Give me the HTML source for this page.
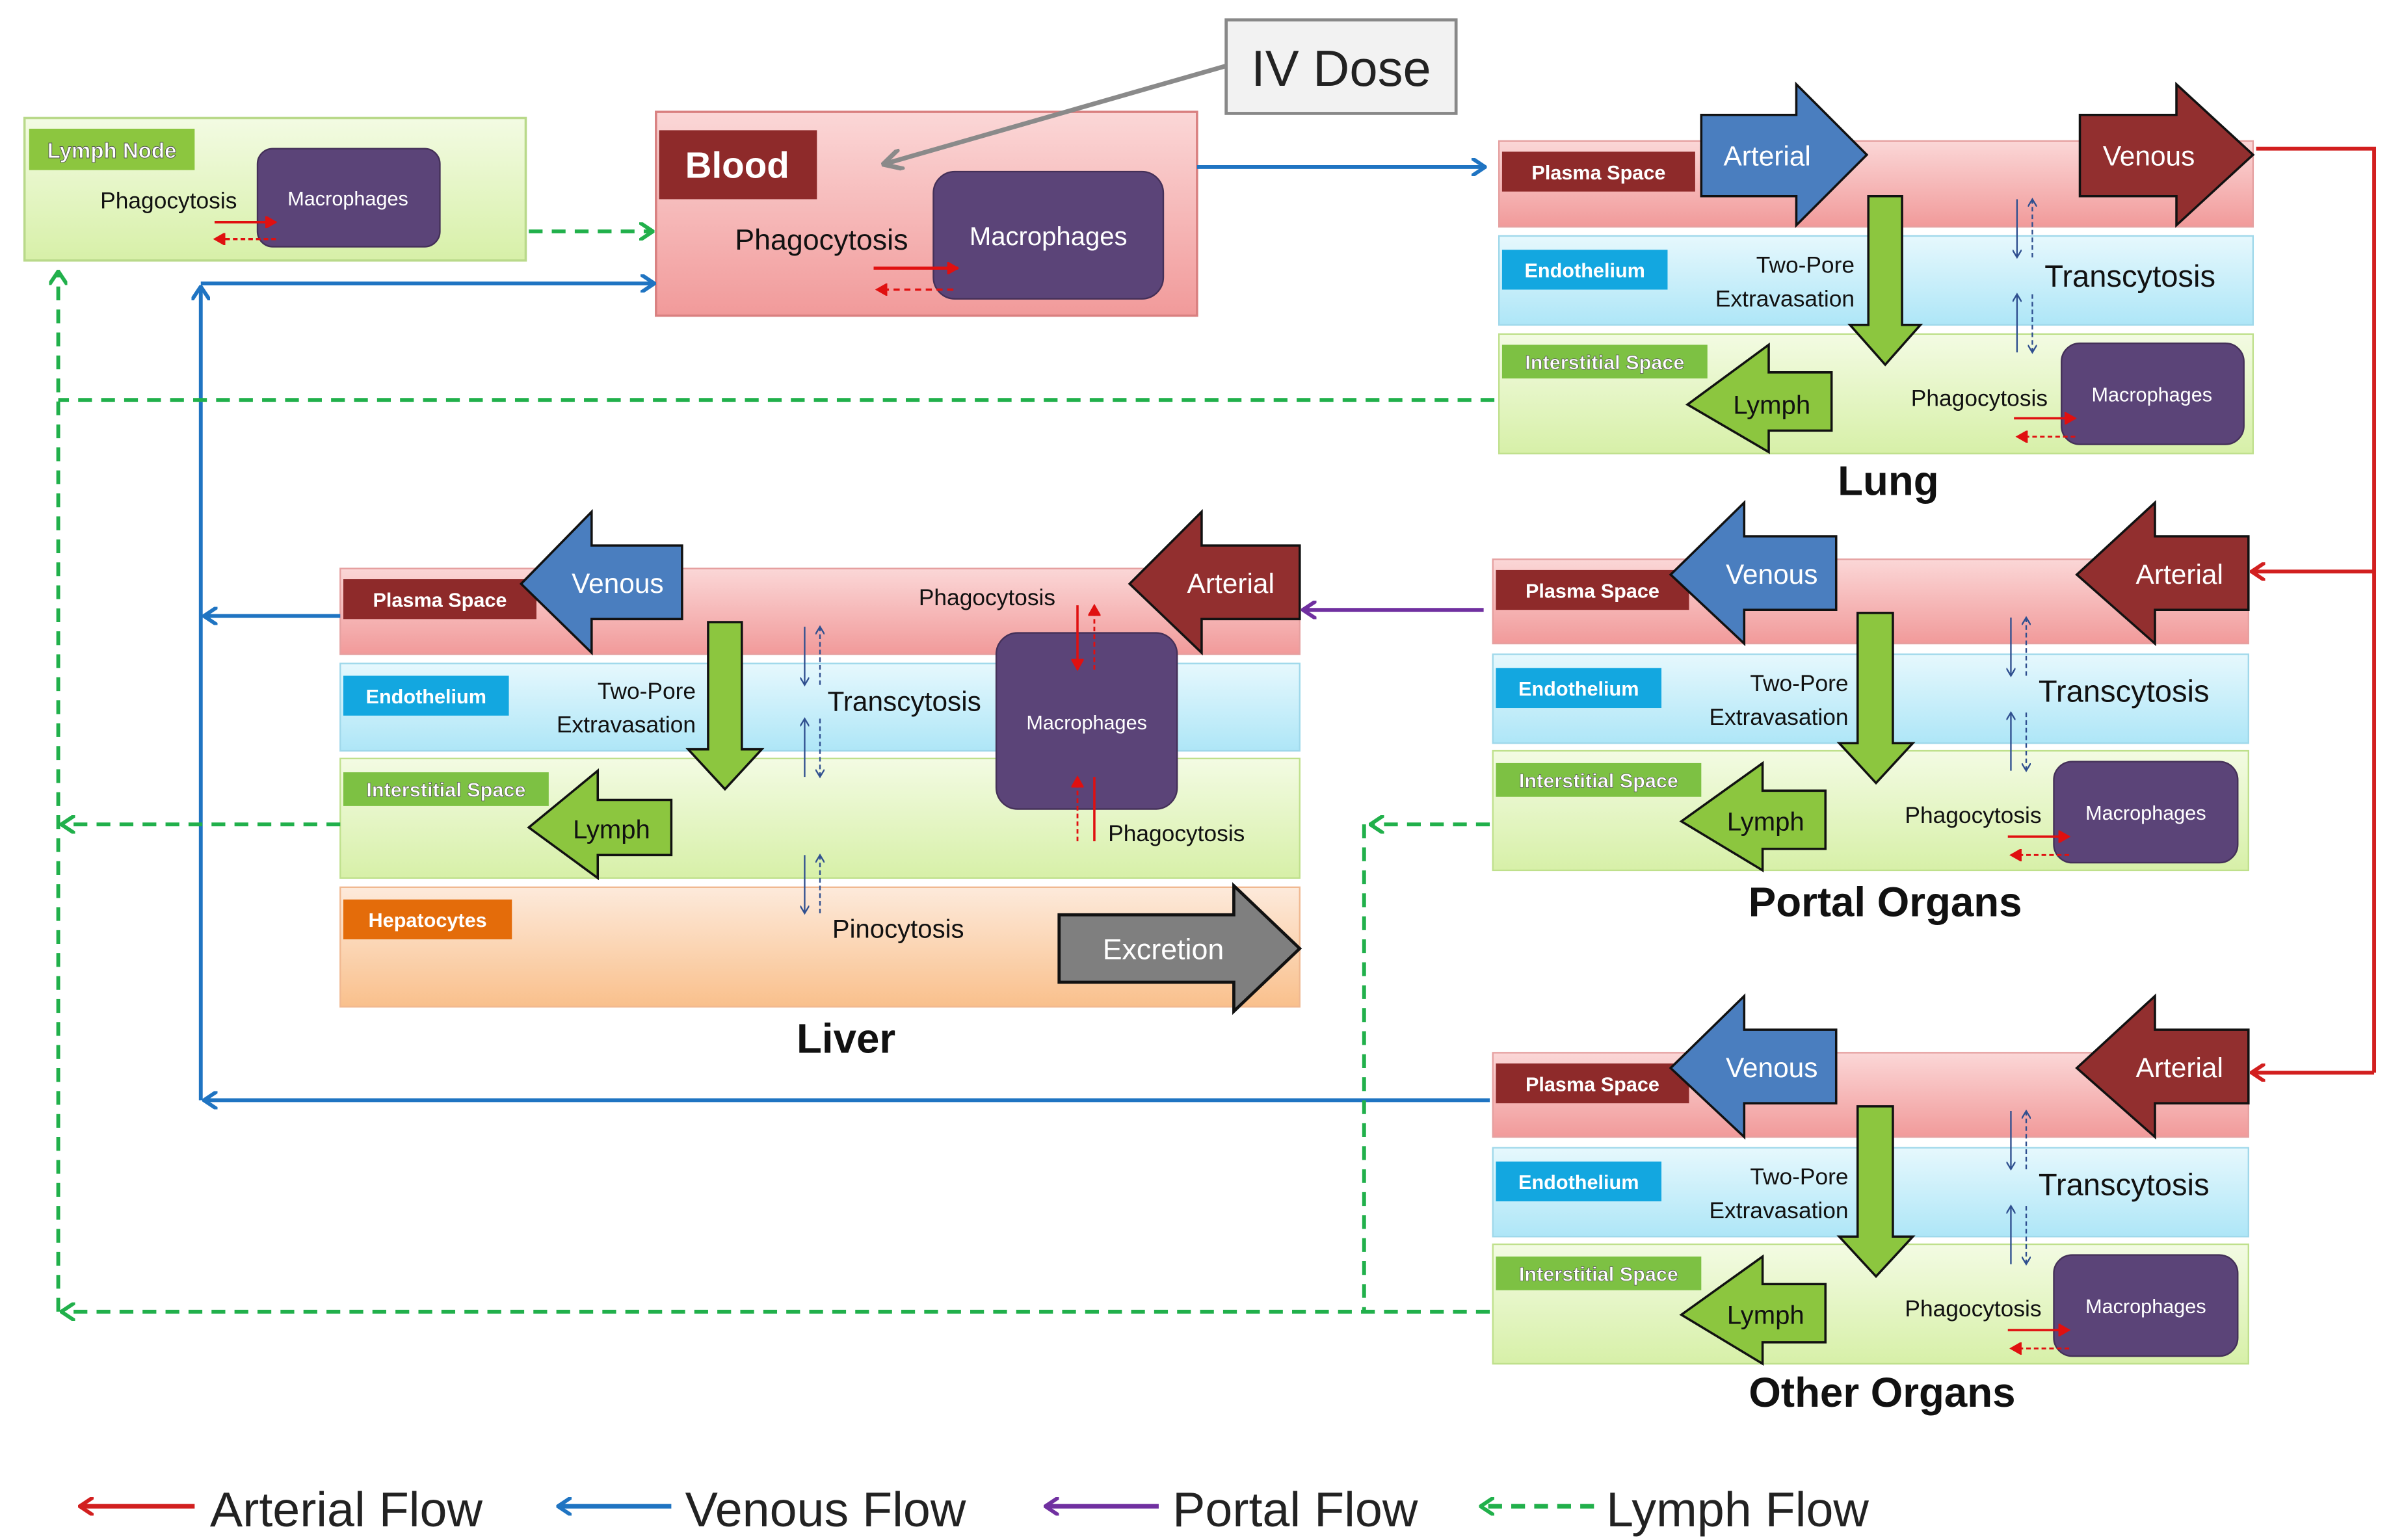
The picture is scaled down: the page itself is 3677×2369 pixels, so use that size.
<!DOCTYPE html>
<html><head><meta charset="utf-8"><style>
html,body{margin:0;padding:0;background:#fff;}
svg{display:block;}
text{font-family:"Liberation Sans",sans-serif;}
</style></head><body>
<svg width="3677" height="2369" viewBox="0 0 1560 1005" preserveAspectRatio="none" xmlns="http://www.w3.org/2000/svg">
<defs>
<linearGradient id="gp" x1="0" y1="0" x2="0" y2="1"><stop offset="0" stop-color="#fbd7d7"/><stop offset="1" stop-color="#f19a9a"/></linearGradient>
<linearGradient id="gb" x1="0" y1="0" x2="0" y2="1"><stop offset="0" stop-color="#e6f8fd"/><stop offset="1" stop-color="#aee6f7"/></linearGradient>
<linearGradient id="gg" x1="0" y1="0" x2="0" y2="1"><stop offset="0" stop-color="#f3fbe3"/><stop offset="1" stop-color="#d7f0a8"/></linearGradient>
<linearGradient id="go" x1="0" y1="0" x2="0" y2="1"><stop offset="0" stop-color="#fdeadb"/><stop offset="1" stop-color="#f9c08c"/></linearGradient>
<marker id="mr" markerWidth="10" markerHeight="12" refX="8" refY="6" orient="auto" markerUnits="userSpaceOnUse"><path d="M0,0 L9,6 L0,12" fill="none" stroke="#d21f1f" stroke-width="2.5"/></marker>
<marker id="mbb" markerWidth="10" markerHeight="12" refX="8" refY="6" orient="auto" markerUnits="userSpaceOnUse"><path d="M0,0 L9,6 L0,12" fill="none" stroke="#1f74c2" stroke-width="2.5"/></marker>
<marker id="mpp" markerWidth="10" markerHeight="12" refX="8" refY="6" orient="auto" markerUnits="userSpaceOnUse"><path d="M0,0 L9,6 L0,12" fill="none" stroke="#7030a0" stroke-width="2.5"/></marker>
<marker id="mgg" markerWidth="10" markerHeight="12" refX="8" refY="6" orient="auto" markerUnits="userSpaceOnUse"><path d="M0,0 L9,6 L0,12" fill="none" stroke="#21b04b" stroke-width="2.5"/></marker>
<marker id="mgr" markerWidth="14" markerHeight="14" refX="12" refY="7" orient="auto" markerUnits="userSpaceOnUse"><path d="M0,0 L13,7 L0,14" fill="none" stroke="#8a8a8a" stroke-width="3"/></marker>
<marker id="ms" markerWidth="6" markerHeight="6" refX="5" refY="3" orient="auto" markerUnits="userSpaceOnUse"><path d="M0,0 L5,3 L0,6" fill="none" stroke="#2f4f8f" stroke-width="1"/></marker>
<marker id="msr" markerWidth="8" markerHeight="8" refX="7" refY="4" orient="auto" markerUnits="userSpaceOnUse"><path d="M0,0 L7,4 L0,8" fill="#e01010" stroke="#e01010" stroke-width="1"/></marker>
</defs>

<!-- Lymph node -->
<rect x="16" y="77" width="327" height="93" fill="url(#gg)" stroke="#b9d98a" stroke-width="1.5"/>
<rect x="19" y="84" width="108" height="27" fill="#8cc63f"/>
<text x="73" y="103" font-size="14" font-weight="bold" fill="#fff" text-anchor="middle" stroke="#555" stroke-width="0.4">Lymph Node</text>
<text x="110" y="136" font-size="15" text-anchor="middle" fill="#111">Phagocytosis</text>
<rect x="168" y="97" width="119" height="64" rx="10" fill="#5b4478" stroke="#443058"/>
<text x="227" y="134" font-size="13" text-anchor="middle" fill="#fff">Macrophages</text>
<line x1="140" y1="145" x2="180" y2="145" stroke="#e01010" stroke-width="1.5" marker-end="url(#msr)"/>
<line x1="180" y1="156" x2="140" y2="156" stroke="#e01010" stroke-width="1.5" stroke-dasharray="3,2" marker-end="url(#msr)"/>

<!-- Blood -->
<rect x="428" y="73" width="353" height="133" fill="url(#gp)" stroke="#d98080" stroke-width="1.5"/>
<rect x="430" y="85" width="103" height="45" fill="#8e2a2a"/>
<text x="481" y="116" font-size="24" font-weight="bold" fill="#fff" text-anchor="middle">Blood</text>
<text x="536" y="163" font-size="19" text-anchor="middle" fill="#111">Phagocytosis</text>
<rect x="609" y="112" width="150" height="83" rx="14" fill="#5b4478" stroke="#443058"/>
<text x="684" y="160" font-size="17" text-anchor="middle" fill="#fff">Macrophages</text>
<line x1="570" y1="175" x2="625" y2="175" stroke="#e01010" stroke-width="2" marker-end="url(#msr)"/>
<line x1="622" y1="189" x2="572" y2="189" stroke="#e01010" stroke-width="1.5" stroke-dasharray="4,3" marker-end="url(#msr)"/>

<!-- IV Dose -->
<rect x="800" y="13" width="150" height="61" fill="#f2f2f2" stroke="#888" stroke-width="2"/>
<text x="875" y="56" font-size="33" text-anchor="middle" fill="#222">IV Dose</text>
<line x1="800" y1="43" x2="577" y2="107" stroke="#8a8a8a" stroke-width="3" marker-end="url(#mgr)"/>

<!-- LUNG module at 978,92 -->
<g transform="translate(978,92)">
<rect x="0" y="0" width="492" height="56" fill="url(#gp)" stroke="#e5a0a0"/>
<rect x="2" y="7" width="126" height="26" fill="#8e2a2a"/>
<text x="65" y="25" font-size="13" font-weight="bold" fill="#fff" text-anchor="middle">Plasma Space</text>
<rect x="0" y="62" width="492" height="58" fill="url(#gb)" stroke="#9fd8ea"/>
<rect x="2" y="71" width="108" height="26" fill="#13a7e0"/>
<text x="56" y="89" font-size="13" font-weight="bold" fill="#fff" text-anchor="middle">Endothelium</text>
<rect x="0" y="126" width="492" height="78" fill="url(#gg)" stroke="#bfe08c"/>
<rect x="2" y="133" width="134" height="22" fill="#7dc143"/>
<text x="69" y="149" font-size="13" font-weight="bold" fill="#fff" text-anchor="middle" stroke="#555" stroke-width="0.3">Interstitial Space</text>
<path d="M132,-17 L194,-17 L194,-37 L240,9 L194,55 L194,36 L132,36 Z" fill="#4a7ebf" stroke="#111" stroke-width="1.5"/>
<text x="175" y="16" font-size="18" fill="#fff" text-anchor="middle">Arterial</text>
<path d="M379,-17 L442,-17 L442,-37 L492,9 L442,55 L442,36 L379,36 Z" fill="#922f2f" stroke="#111" stroke-width="1.5"/>
<text x="424" y="16" font-size="18" fill="#fff" text-anchor="middle">Venous</text>
<path d="M241,36 L263,36 L263,120 L275,120 L252,146 L229,120 L241,120 Z" fill="#8cc63f" stroke="#111" stroke-width="1.5"/>
<text x="232" y="86" font-size="15" text-anchor="end" fill="#111">Two-Pore</text>
<text x="232" y="108" font-size="15" text-anchor="end" fill="#111">Extravasation</text>
<line x1="338" y1="38" x2="338" y2="76" stroke="#2f4f8f" marker-end="url(#ms)"/>
<line x1="348" y1="76" x2="348" y2="38" stroke="#2f4f8f" stroke-dasharray="3,2" marker-end="url(#ms)"/>
<line x1="338" y1="138" x2="338" y2="100" stroke="#2f4f8f" marker-end="url(#ms)"/>
<line x1="348" y1="100" x2="348" y2="138" stroke="#2f4f8f" stroke-dasharray="3,2" marker-end="url(#ms)"/>
<text x="356" y="95" font-size="20" fill="#111">Transcytosis</text>
<path d="M217,151 L176,151 L176,133 L123,172 L176,203 L176,189 L217,189 Z" fill="#8cc63f" stroke="#111" stroke-width="1.5"/>
<text x="178" y="178" font-size="17" fill="#111" text-anchor="middle">Lymph</text>
<text x="358" y="173" font-size="15" text-anchor="end" fill="#111">Phagocytosis</text>
<rect x="367" y="132" width="119" height="66" rx="12" fill="#5b4478" stroke="#443058"/>
<text x="426" y="170" font-size="13" fill="#fff" text-anchor="middle">Macrophages</text>
<line x1="336" y1="181" x2="376" y2="181" stroke="#e01010" stroke-width="1.5" marker-end="url(#msr)"/>
<line x1="376" y1="193" x2="338" y2="193" stroke="#e01010" stroke-width="1.2" stroke-dasharray="3,2" marker-end="url(#msr)"/>
</g>
<text x="1232" y="323" font-size="27" font-weight="bold" text-anchor="middle" fill="#111">Lung</text>

<!-- PORTAL module at 974,365 -->
<g transform="translate(974,365)">
<rect x="0" y="0" width="493" height="55" fill="url(#gp)" stroke="#e5a0a0"/>
<rect x="2" y="7" width="126" height="26" fill="#8e2a2a"/>
<text x="65" y="25" font-size="13" font-weight="bold" fill="#fff" text-anchor="middle">Plasma Space</text>
<rect x="0" y="62" width="493" height="58" fill="url(#gb)" stroke="#9fd8ea"/>
<rect x="2" y="71" width="108" height="26" fill="#13a7e0"/>
<text x="56" y="89" font-size="13" font-weight="bold" fill="#fff" text-anchor="middle">Endothelium</text>
<rect x="0" y="125" width="493" height="78" fill="url(#gg)" stroke="#bfe08c"/>
<rect x="2" y="133" width="134" height="22" fill="#7dc143"/>
<text x="69" y="149" font-size="13" font-weight="bold" fill="#fff" text-anchor="middle" stroke="#555" stroke-width="0.3">Interstitial Space</text>
<path d="M224,-15 L164,-15 L164,-37 L116,10 L164,55 L164,33 L224,33 Z" fill="#4a7ebf" stroke="#111" stroke-width="1.5"/>
<text x="182" y="16" font-size="18" fill="#fff" text-anchor="middle">Venous</text>
<path d="M493,-15 L432,-15 L432,-37 L381,10 L432,55 L432,33 L493,33 Z" fill="#922f2f" stroke="#111" stroke-width="1.5"/>
<text x="448" y="16" font-size="18" fill="#fff" text-anchor="middle">Arterial</text>
<path d="M238,35 L261,35 L261,120 L274,120 L250,146 L226,120 L238,120 Z" fill="#8cc63f" stroke="#111" stroke-width="1.5"/>
<text x="232" y="86" font-size="15" text-anchor="end" fill="#111">Two-Pore</text>
<text x="232" y="108" font-size="15" text-anchor="end" fill="#111">Extravasation</text>
<line x1="338" y1="38" x2="338" y2="76" stroke="#2f4f8f" marker-end="url(#ms)"/>
<line x1="348" y1="76" x2="348" y2="38" stroke="#2f4f8f" stroke-dasharray="3,2" marker-end="url(#ms)"/>
<line x1="338" y1="138" x2="338" y2="100" stroke="#2f4f8f" marker-end="url(#ms)"/>
<line x1="348" y1="100" x2="348" y2="138" stroke="#2f4f8f" stroke-dasharray="3,2" marker-end="url(#ms)"/>
<text x="356" y="93" font-size="20" fill="#111">Transcytosis</text>
<path d="M217,151 L176,151 L176,133 L123,171 L176,203 L176,189 L217,189 Z" fill="#8cc63f" stroke="#111" stroke-width="1.5"/>
<text x="178" y="177" font-size="17" fill="#111" text-anchor="middle">Lymph</text>
<text x="358" y="172" font-size="15" text-anchor="end" fill="#111">Phagocytosis</text>
<rect x="366" y="132" width="120" height="66" rx="12" fill="#5b4478" stroke="#443058"/>
<text x="426" y="170" font-size="13" fill="#fff" text-anchor="middle">Macrophages</text>
<line x1="336" y1="181" x2="376" y2="181" stroke="#e01010" stroke-width="1.5" marker-end="url(#msr)"/>
<line x1="376" y1="193" x2="338" y2="193" stroke="#e01010" stroke-width="1.2" stroke-dasharray="3,2" marker-end="url(#msr)"/>
</g>
<text x="1230" y="598" font-size="27" font-weight="bold" text-anchor="middle" fill="#111">Portal Organs</text>

<!-- OTHER module at 974,687 -->
<g transform="translate(974,687)">
<rect x="0" y="0" width="493" height="55" fill="url(#gp)" stroke="#e5a0a0"/>
<rect x="2" y="7" width="126" height="26" fill="#8e2a2a"/>
<text x="65" y="25" font-size="13" font-weight="bold" fill="#fff" text-anchor="middle">Plasma Space</text>
<rect x="0" y="62" width="493" height="58" fill="url(#gb)" stroke="#9fd8ea"/>
<rect x="2" y="71" width="108" height="26" fill="#13a7e0"/>
<text x="56" y="89" font-size="13" font-weight="bold" fill="#fff" text-anchor="middle">Endothelium</text>
<rect x="0" y="125" width="493" height="78" fill="url(#gg)" stroke="#bfe08c"/>
<rect x="2" y="133" width="134" height="22" fill="#7dc143"/>
<text x="69" y="149" font-size="13" font-weight="bold" fill="#fff" text-anchor="middle" stroke="#555" stroke-width="0.3">Interstitial Space</text>
<path d="M224,-15 L164,-15 L164,-37 L116,10 L164,55 L164,33 L224,33 Z" fill="#4a7ebf" stroke="#111" stroke-width="1.5"/>
<text x="182" y="16" font-size="18" fill="#fff" text-anchor="middle">Venous</text>
<path d="M493,-15 L432,-15 L432,-37 L381,10 L432,55 L432,33 L493,33 Z" fill="#922f2f" stroke="#111" stroke-width="1.5"/>
<text x="448" y="16" font-size="18" fill="#fff" text-anchor="middle">Arterial</text>
<path d="M238,35 L261,35 L261,120 L274,120 L250,146 L226,120 L238,120 Z" fill="#8cc63f" stroke="#111" stroke-width="1.5"/>
<text x="232" y="86" font-size="15" text-anchor="end" fill="#111">Two-Pore</text>
<text x="232" y="108" font-size="15" text-anchor="end" fill="#111">Extravasation</text>
<line x1="338" y1="38" x2="338" y2="76" stroke="#2f4f8f" marker-end="url(#ms)"/>
<line x1="348" y1="76" x2="348" y2="38" stroke="#2f4f8f" stroke-dasharray="3,2" marker-end="url(#ms)"/>
<line x1="338" y1="138" x2="338" y2="100" stroke="#2f4f8f" marker-end="url(#ms)"/>
<line x1="348" y1="100" x2="348" y2="138" stroke="#2f4f8f" stroke-dasharray="3,2" marker-end="url(#ms)"/>
<text x="356" y="93" font-size="20" fill="#111">Transcytosis</text>
<path d="M217,151 L176,151 L176,133 L123,171 L176,203 L176,189 L217,189 Z" fill="#8cc63f" stroke="#111" stroke-width="1.5"/>
<text x="178" y="177" font-size="17" fill="#111" text-anchor="middle">Lymph</text>
<text x="358" y="172" font-size="15" text-anchor="end" fill="#111">Phagocytosis</text>
<rect x="366" y="132" width="120" height="66" rx="12" fill="#5b4478" stroke="#443058"/>
<text x="426" y="170" font-size="13" fill="#fff" text-anchor="middle">Macrophages</text>
<line x1="336" y1="181" x2="376" y2="181" stroke="#e01010" stroke-width="1.5" marker-end="url(#msr)"/>
<line x1="376" y1="193" x2="338" y2="193" stroke="#e01010" stroke-width="1.2" stroke-dasharray="3,2" marker-end="url(#msr)"/>
</g>
<text x="1228" y="918" font-size="27" font-weight="bold" text-anchor="middle" fill="#111">Other Organs</text>

<!-- LIVER module at 222,371 -->
<g transform="translate(222,371)">
<rect x="0" y="0" width="626" height="56" fill="url(#gp)" stroke="#e5a0a0"/>
<rect x="2" y="7" width="126" height="26" fill="#8e2a2a"/>
<text x="65" y="25" font-size="13" font-weight="bold" fill="#fff" text-anchor="middle">Plasma Space</text>
<rect x="0" y="62" width="626" height="57" fill="url(#gb)" stroke="#9fd8ea"/>
<rect x="2" y="70" width="108" height="26" fill="#13a7e0"/>
<text x="56" y="88" font-size="13" font-weight="bold" fill="#fff" text-anchor="middle">Endothelium</text>
<rect x="0" y="124" width="626" height="78" fill="url(#gg)" stroke="#bfe08c"/>
<rect x="2" y="133" width="134" height="22" fill="#7dc143"/>
<text x="69" y="149" font-size="13" font-weight="bold" fill="#fff" text-anchor="middle" stroke="#555" stroke-width="0.3">Interstitial Space</text>
<rect x="0" y="208" width="626" height="78" fill="url(#go)" stroke="#f0b890"/>
<rect x="2" y="216" width="110" height="26" fill="#e46c0a"/>
<text x="57" y="234" font-size="13" font-weight="bold" fill="#fff" text-anchor="middle">Hepatocytes</text>
<path d="M223,-15 L164,-15 L164,-37 L118,10 L164,55 L164,33 L223,33 Z" fill="#4a7ebf" stroke="#111" stroke-width="1.5"/>
<text x="181" y="16" font-size="18" fill="#fff" text-anchor="middle">Venous</text>
<path d="M626,-15 L562,-15 L562,-37 L515,10 L562,55 L562,33 L626,33 Z" fill="#922f2f" stroke="#111" stroke-width="1.5"/>
<text x="581" y="16" font-size="18" fill="#fff" text-anchor="middle">Arterial</text>
<path d="M240,35 L262,35 L262,118 L275,118 L251,144 L227,118 L240,118 Z" fill="#8cc63f" stroke="#111" stroke-width="1.5"/>
<text x="232" y="85" font-size="15" text-anchor="end" fill="#111">Two-Pore</text>
<text x="232" y="107" font-size="15" text-anchor="end" fill="#111">Extravasation</text>
<line x1="303" y1="38" x2="303" y2="76" stroke="#2f4f8f" marker-end="url(#ms)"/>
<line x1="313" y1="76" x2="313" y2="38" stroke="#2f4f8f" stroke-dasharray="3,2" marker-end="url(#ms)"/>
<line x1="303" y1="136" x2="303" y2="98" stroke="#2f4f8f" marker-end="url(#ms)"/>
<line x1="313" y1="98" x2="313" y2="136" stroke="#2f4f8f" stroke-dasharray="3,2" marker-end="url(#ms)"/>
<line x1="303" y1="187" x2="303" y2="225" stroke="#2f4f8f" marker-end="url(#ms)"/>
<line x1="313" y1="225" x2="313" y2="187" stroke="#2f4f8f" stroke-dasharray="3,2" marker-end="url(#ms)"/>
<text x="368" y="93" font-size="18" fill="#111" text-anchor="middle">Transcytosis</text>
<text x="422" y="24" font-size="15" fill="#111" text-anchor="middle">Phagocytosis</text>
<rect x="428" y="42" width="118" height="115" rx="14" fill="#5b4478" stroke="#443058"/>
<text x="487" y="105" font-size="13" fill="#fff" text-anchor="middle">Macrophages</text>
<line x1="481" y1="24" x2="481" y2="66" stroke="#e01010" stroke-width="1.5" marker-end="url(#msr)"/>
<line x1="492" y1="66" x2="492" y2="24" stroke="#e01010" stroke-width="1.2" stroke-dasharray="3,2" marker-end="url(#msr)"/>
<line x1="481" y1="178" x2="481" y2="136" stroke="#e01010" stroke-width="1.2" stroke-dasharray="3,2" marker-end="url(#msr)"/>
<line x1="492" y1="136" x2="492" y2="178" stroke="#e01010" stroke-width="1.5"/>
<text x="501" y="178" font-size="15" fill="#111" text-anchor="start">Phagocytosis</text>
<path d="M216,151 L168,151 L168,132 L123,169 L168,202 L168,187 L216,187 Z" fill="#8cc63f" stroke="#111" stroke-width="1.5"/>
<text x="177" y="176" font-size="17" fill="#111" text-anchor="middle">Lymph</text>
<text x="364" y="241" font-size="17" fill="#111" text-anchor="middle">Pinocytosis</text>
<path d="M469,226 L583,226 L583,207 L626,248 L583,289 L583,270 L469,270 Z" fill="#7f7f7f" stroke="#111" stroke-width="2"/>
<text x="537" y="255" font-size="19" fill="#fff" text-anchor="middle">Excretion</text>
</g>
<text x="552" y="687" font-size="27" font-weight="bold" text-anchor="middle" fill="#111">Liver</text>

<!-- connectors: blue -->
<line x1="781" y1="109" x2="968" y2="109" stroke="#1f74c2" stroke-width="2.5" marker-end="url(#mbb)"/>
<line x1="131" y1="718" x2="131" y2="188" stroke="#1f74c2" stroke-width="2.5" marker-end="url(#mbb)"/>
<line x1="131" y1="185" x2="426" y2="185" stroke="#1f74c2" stroke-width="2.5" marker-end="url(#mbb)"/>
<line x1="222" y1="402" x2="134" y2="402" stroke="#1f74c2" stroke-width="2.5" marker-end="url(#mbb)"/>
<line x1="972" y1="718" x2="134" y2="718" stroke="#1f74c2" stroke-width="2.5" marker-end="url(#mbb)"/>
<!-- purple -->
<line x1="968" y1="398" x2="851" y2="398" stroke="#7030a0" stroke-width="2.5" marker-end="url(#mpp)"/>
<!-- red -->
<polyline points="1472,97 1549,97 1549,700" fill="none" stroke="#d21f1f" stroke-width="2.5"/>
<line x1="1549" y1="373" x2="1470" y2="373" stroke="#d21f1f" stroke-width="2.5" marker-end="url(#mr)"/>
<line x1="1549" y1="700" x2="1470" y2="700" stroke="#d21f1f" stroke-width="2.5" marker-end="url(#mr)"/>
<!-- green dashed -->
<g stroke="#21b04b" stroke-width="2.5" stroke-dasharray="9,6" fill="none">
<line x1="345" y1="151" x2="425" y2="151" marker-end="url(#mgg)"/>
<line x1="38" y1="856" x2="38" y2="178" marker-end="url(#mgg)"/>
<line x1="975" y1="261" x2="38" y2="261"/>
<line x1="222" y1="538" x2="41" y2="538" marker-end="url(#mgg)"/>
<line x1="972" y1="538" x2="895" y2="538" marker-end="url(#mgg)"/>
<line x1="890" y1="538" x2="890" y2="856"/>
<line x1="972" y1="856" x2="41" y2="856" marker-end="url(#mgg)"/>
</g>

<!-- legend -->
<line x1="127" y1="983" x2="53" y2="983" stroke="#d21f1f" stroke-width="3" marker-end="url(#mr)"/>
<text x="137" y="996" font-size="32" fill="#222">Arterial Flow</text>
<line x1="438" y1="983" x2="365" y2="983" stroke="#1f74c2" stroke-width="3" marker-end="url(#mbb)"/>
<text x="447" y="996" font-size="32" fill="#222">Venous Flow</text>
<line x1="756" y1="983" x2="683" y2="983" stroke="#7030a0" stroke-width="3" marker-end="url(#mpp)"/>
<text x="765" y="996" font-size="32" fill="#222">Portal Flow</text>
<line x1="1040" y1="983" x2="967" y2="983" stroke="#21b04b" stroke-width="3" stroke-dasharray="9,6" marker-end="url(#mgg)"/>
<text x="1048" y="996" font-size="32" fill="#222">Lymph Flow</text>
</svg>
</body></html>
